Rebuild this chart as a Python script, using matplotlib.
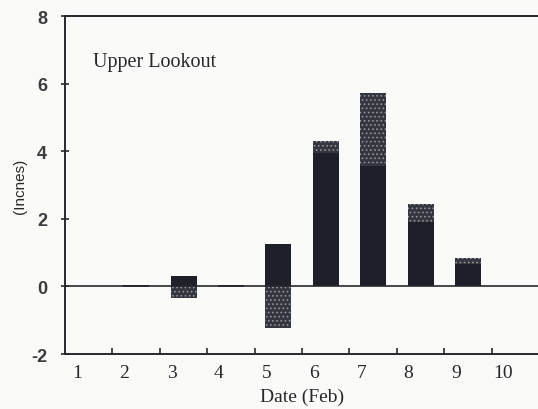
import matplotlib

matplotlib.use("Agg")
import matplotlib.pyplot as plt
from matplotlib.transforms import ScaledTranslation

# Daily values (inches), Feb 1-10
DAYS = [1, 2, 3, 4, 5, 6, 7, 8, 9, 10]
DARK_PART = [0.0, 0.03, 0.30, 0.05, 1.27, 3.95, 3.55, 1.90, 0.65, 0.0]
SHADED_TOP = [0.0, 0.0, 0.0, 0.0, 0.0, 0.34, 2.16, 0.53, 0.18, 0.0]
SHADED_NEG = [0.0, -0.03, -0.33, -0.03, -1.24, 0.0, 0.0, 0.0, 0.0, 0.0]

Y_TICKS = [-2, 0, 2, 4, 6, 8]
INK = "#26282d"
BAR_DARK = "#1d2028"
BAR_SHADE = "#34373f"

plt.rcParams["hatch.linewidth"] = 0.6

fig = plt.figure(figsize=(5.38, 4.10), dpi=100)
fig.patch.set_facecolor("#fafaf8")
ax = fig.add_axes([0.121, 0.134, 0.881, 0.8245])
ax.set_facecolor("#fafaf8")

width = 0.55
ax.bar(DAYS, DARK_PART, width=width, color=BAR_DARK, linewidth=0, zorder=2)
ax.bar(DAYS, SHADED_TOP, width=width, bottom=DARK_PART, color=BAR_SHADE,
       edgecolor="#9a9da3", hatch="....", linewidth=0, zorder=2)
ax.bar(DAYS, SHADED_NEG, width=width, color=BAR_SHADE,
       edgecolor="#9a9da3", hatch="....", linewidth=0, zorder=2)

ax.axhline(0, color=INK, linewidth=1.2, zorder=3)

ax.set_xlim(0.5, 10.5)
ax.set_ylim(-2, 8)

ax.set_yticks(Y_TICKS)
ax.set_yticklabels([str(v) for v in Y_TICKS], family="Liberation Sans", fontsize=13,
                   fontweight="bold", color="#3a3c40")
ax.tick_params(axis="y", direction="inout", length=6, width=1.2, color=INK, pad=10)

ax.set_xticks(DAYS)
ax.set_xticklabels([str(d) for d in DAYS], family="Liberation Serif", fontsize=14, color=INK)
ax.set_xticks([d + 0.5 for d in DAYS[:-1]], minor=True)
ax.tick_params(axis="x", which="major", length=0, pad=7)
ax.tick_params(axis="x", which="minor", direction="in", length=4, width=1.2, color=INK)
shift = ScaledTranslation(-12 / 100, 0, fig.dpi_scale_trans)
for lab in ax.get_xticklabels():
    lab.set_transform(lab.get_transform() + shift)

for side in ("left", "bottom", "top"):
    ax.spines[side].set_color(INK)
    ax.spines[side].set_linewidth(1.4)
ax.spines["right"].set_visible(False)

ax.set_xlabel("Date (Feb)", family="Liberation Serif", fontsize=14, color=INK, labelpad=5)
ax.set_ylabel("(Incnes)", family="Liberation Sans", fontsize=11, color=INK, labelpad=3)

ax.text(0.059, 0.864, "Upper Lookout", transform=ax.transAxes, family="Liberation Serif",
        fontsize=14.5, color=INK, ha="left", va="center")

fig.savefig("out.png", dpi=100, facecolor=fig.get_facecolor())
